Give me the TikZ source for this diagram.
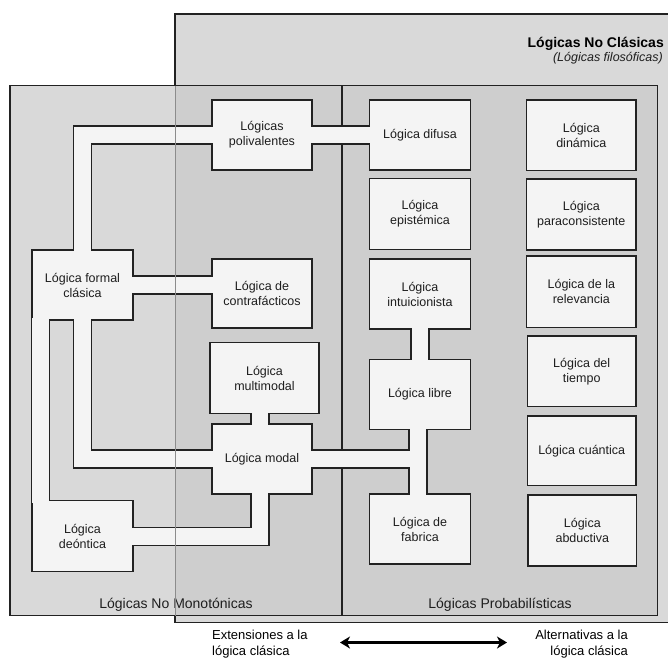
\documentclass[tikz,border=0pt]{standalone}
\usepackage{fontspec}
\setmainfont{Liberation Sans}
\usetikzlibrary{calc,arrows.meta}
\definecolor{regA}{HTML}{D9D9D9}
\definecolor{regB}{HTML}{CECECE}
\definecolor{boxfill}{HTML}{F4F4F4}
\definecolor{edge}{HTML}{222222}
\definecolor{faint}{HTML}{8C8C8C}
\definecolor{txt}{HTML}{1E1E1E}
\pgfdeclarelayer{bg}
\pgfdeclarelayer{pipes}
\pgfdeclarelayer{fg}
\pgfsetlayers{bg,pipes,main,fg}
\newcommand\pipepaths[1]{%
  \draw[#1] (formal.north) -- (formal.north |- poli.west) -- (poli.west);
  \draw[#1] (poli.east) -- (difusa.west);
  \draw[#1] (formal.east) -- (formal.east -| contra.west);
  \draw[#1] (formal.south) -- (formal.south |- modal.west) -- (modal.west);
  \draw[#1] ($(formal.south west)+(9,0)$) -- ($(deontica.north west)+(9,0)$);
  \draw[#1] ([xshift=-2pt]modal.north) -- ([xshift=-2pt]modal.north |- multi.south);
  \draw[#1] ([xshift=-2pt]modal.south) -- ([xshift=-2pt]modal.south |- deontica.east) -- (deontica.east);
  \draw[#1] (modal.east) -- ([xshift=-2pt]modal.east -| libre.south);
  \draw[#1] ([xshift=-2pt]libre.south) -- ([xshift=-2pt]fabrica.north);
  \draw[#1] (intu.south) -- (libre.north);
}
\begin{document}
\begin{tikzpicture}[x=1pt,y=-1pt,
  lbox/.style={draw=edge, fill=boxfill, line width=1.4pt, align=center, inner sep=2pt,
    font=\fontsize{12.5}{15}\selectfont, text=txt},
  regionline/.style={draw=edge, line width=1.4pt},
  pipedark/.style={draw=edge, line width=19.4pt, line join=miter},
  pipelight/.style={draw=boxfill, line width=16.6pt, line join=miter, shorten <=-3pt, shorten >=-3pt},
  reglabel/.style={font=\fontsize{14}{16}\selectfont, text=txt, inner sep=0pt, anchor=base},
  foot/.style={font=\fontsize{13}{16}\selectfont, text=black, inner sep=0pt}]
\useasboundingbox (0,0) rectangle (668,658);

\begin{pgfonlayer}{bg}
  \fill[white] (0,0) rectangle (668,658);
  \fill[regA] (175,14) rectangle (668,622.5);
  \draw[regionline] (668,14) -- (175,14) -- (175,622.5) -- (668,622.5);
  \fill[regA] (10,85.7) rectangle (175,615.7);
  \fill[regB] (175,85.7) rectangle (657.3,615.7);
  \draw[regionline] (10,85.7) rectangle (342,615.7);
  \draw[regionline] (342,85.7) rectangle (657.3,615.7);
\end{pgfonlayer}

% left group
\node[lbox, minimum width=101pt, minimum height=70pt] (formal) at (82.5,285) {Lógica formal\\clásica};
\node[lbox, minimum width=101pt, minimum height=71pt] (deontica) at (82.5,536.2) {Lógica\\deóntica};
\node[lbox, minimum width=100pt, minimum height=70pt] (poli) at (262,135) {Lógicas\\polivalentes};
\node[lbox, minimum width=100pt, minimum height=69pt] (contra) at (262,293.5) {Lógica de\\contrafácticos};
\node[lbox, minimum width=109pt, minimum height=70.6pt] (multi) at (264.5,378) {Lógica\\multimodal};
\node[lbox, minimum width=100pt, minimum height=70pt] (modal) at (262,459) {Lógica modal};
% middle column
\node[lbox, minimum width=100.7pt, minimum height=70pt] (difusa) at (420,135) {Lógica difusa};
\node[lbox, minimum width=100.7pt, minimum height=71pt] (episte) at (420,213.8) {Lógica\\epistémica};
\node[lbox, minimum width=100.7pt, minimum height=70pt] (intu) at (420,294) {Lógica\\intuicionista};
\node[lbox, minimum width=100.7pt, minimum height=70pt] (libre) at (420,394.3) {Lógica libre};
\node[lbox, minimum width=100.7pt, minimum height=70.3pt] (fabrica) at (420,529) {Lógica de\\fabrica};
% right column
\node[lbox, minimum width=109.3pt, minimum height=70.7pt] (dinamica) at (581.3,135.3) {Lógica\\dinámica};
\node[lbox, minimum width=109.3pt, minimum height=71pt] (paracon) at (581.3,214.5) {Lógica\\paraconsistente};
\node[lbox, minimum width=109.3pt, minimum height=71.3pt] (relev) at (581.3,291.7) {Lógica de la\\relevancia};
\node[lbox, minimum width=108.7pt, minimum height=70.7pt] (tiempo) at (581.7,371.3) {Lógica del\\tiempo};
\node[lbox, minimum width=108.7pt, minimum height=69.7pt] (cuant) at (581.7,450.9) {Lógica cuántica};
\node[lbox, minimum width=108.7pt, minimum height=71pt] (abduct) at (582.3,530.5) {Lógica\\abductiva};

\begin{pgfonlayer}{pipes}
  \pipepaths{pipedark}
\end{pgfonlayer}
\begin{pgfonlayer}{fg}
  \pipepaths{pipelight}
  \draw[faint, line width=1pt] (175,85.7) -- (175,615.7);
\end{pgfonlayer}

% titles and labels
\node[font=\fontsize{14}{16}\selectfont\bfseries, text=black, inner sep=0pt, anchor=base east] (title) at (664,48) {Lógicas No Clásicas};
\node[font=\fontsize{12.5}{15}\selectfont\itshape, text=txt, inner sep=0pt, anchor=base east] (subtitle) at (663,61.5) {(Lógicas filosóficas)};
\node[reglabel] (nomono) at (176,608) {Lógicas No Monotónicas};
\node[reglabel] (proba) at (500,608) {Lógicas Probabilísticas};

\node[foot, align=left, anchor=north west] (ext) at (212,630) {Extensiones a la\\lógica clásica};
\node[foot, align=right, anchor=north east] (alt) at (628,630) {Alternativas a la\\lógica clásica};
\coordinate (al) at (340,642.5);
\coordinate (ar) at (507,642.5);
\draw[line width=3pt, black, {Stealth[length=10pt,width=12pt,inset=3pt]}-{Stealth[length=10pt,width=12pt,inset=3pt]}] (al) -- (ar);
\end{tikzpicture}
\end{document}
